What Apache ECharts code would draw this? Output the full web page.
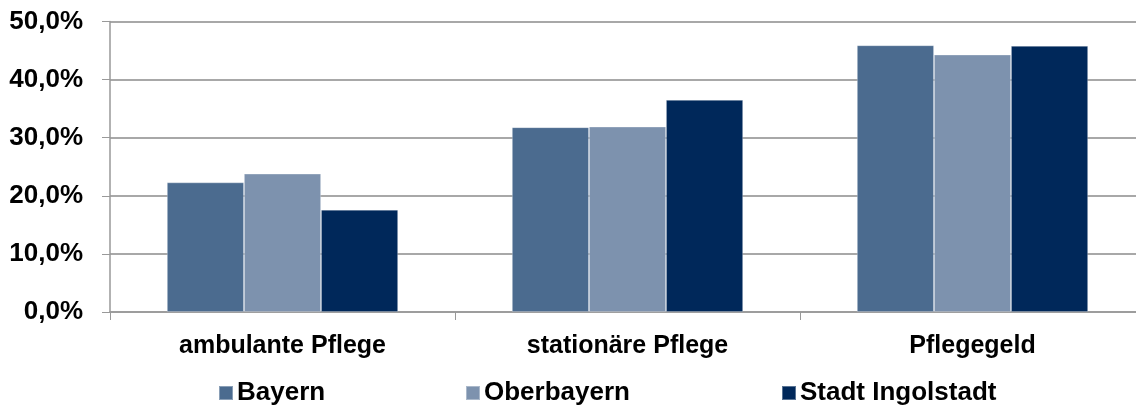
<!DOCTYPE html>
<html>
<head>
<meta charset="utf-8">
<script src="https://cdn.jsdelivr.net/npm/echarts@6/dist/echarts.min.js"></script>
<style>
    html, body { margin: 0; padding: 0; background: #fff; }
    #chart { width: 1136px; height: 407px; }
</style>
</head>
<body>
<div id="chart"></div>
<script>
// Anteile der Leistungsarten
const categories = ['ambulante Pflege', 'stationäre Pflege', 'Pflegegeld']
const bayern = [22.3, 31.8, 45.9]
const oberbayern = [23.8, 31.9, 44.3]
const ingolstadt = [17.6, 36.5, 45.8]
const yTicks = [0, 10, 20, 30, 40, 50]

const seriesNames = ['Bayern', 'Oberbayern', 'Stadt Ingolstadt']
const colors = ['#4b6b8f', '#7d92ae', '#00285a']
const legendLeft = [218, 465, 781]

const font = 'Liberation Sans, Arial, sans-serif'

let chart = echarts.init(document.getElementById('chart'))

let option = {
    animation: false,
    color: colors,
    grid: {
        left: 110,
        width: 1035,
        top: 21.5,
        bottom: 95,
        containLabel: false,
        outerBoundsMode: 'none'
    },
    legend: seriesNames.map((name, i) => ({
        data: [name],
        left: legendLeft[i],
        top: 380,
        padding: 0,
        icon: 'rect',
        itemWidth: 14,
        itemHeight: 14,
        itemGap: 0,
        textStyle: {
            fontFamily: font,
            fontWeight: 'bold',
            fontSize: 26,
            color: '#000',
            padding: [0, 0, 0, -1]
        }
    })),
    xAxis: {
        type: 'category',
        data: categories,
        axisLine: { lineStyle: { color: '#999', width: 1.5 } },
        axisTick: { show: true, length: 8, lineStyle: { color: '#999' } },
        axisLabel: {
            margin: 22,
            fontFamily: font,
            fontWeight: 'bold',
            fontSize: 25,
            color: '#000'
        }
    },
    yAxis: {
        type: 'value',
        min: yTicks[0],
        max: yTicks[yTicks.length - 1],
        interval: 10,
        axisLine: { show: true, lineStyle: { color: '#999', width: 1.5 } },
        axisTick: { show: true, length: 8, lineStyle: { color: '#999' } },
        splitLine: { lineStyle: { color: '#a8a8a8', width: 2 } },
        axisLabel: {
            margin: 27,
            fontFamily: font,
            fontWeight: 'bold',
            fontSize: 26,
            color: '#000',
            formatter: v => v.toFixed(1).replace('.', ',') + '%'
        }
    },
    series: [bayern, oberbayern, ingolstadt].map((d, i) => ({
        name: seriesNames[i],
        type: 'bar',
        data: d,
        barGap: '0%',
        barCategoryGap: '33%',
        itemStyle: {
            borderColor: 'rgba(255,255,255,0.35)',
            borderWidth: 0.8
        }
    }))
}

chart.setOption(option)
</script>
</body>
</html>
